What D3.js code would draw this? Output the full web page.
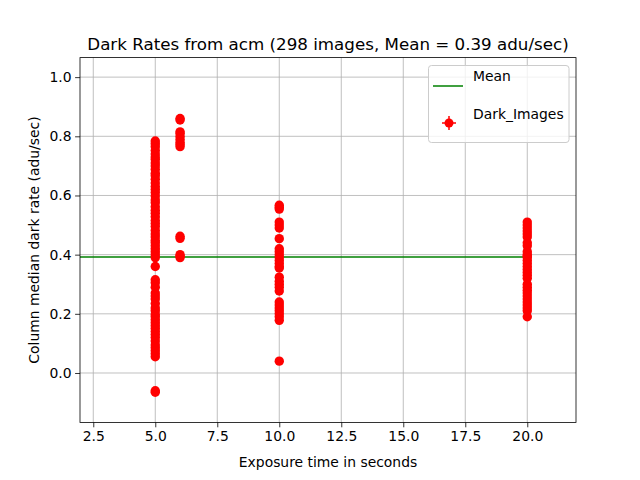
<!DOCTYPE html>
<html><head><meta charset="utf-8">
<script src="https://cdn.jsdelivr.net/npm/d3@7"></script>
<style>body{margin:0;background:#fff;} text{font-family:"DejaVu Sans",sans-serif;}</style>
</head><body>
<svg id="c" width="640" height="480"></svg>
<script>
const exposures = [5, 6, 10, 20];
const rates5 = [0.784,0.775,0.765,0.752,0.74,0.73,0.722,0.71,0.70,0.688,0.675,0.667,0.655,0.642,0.63,0.62,0.61,0.598,0.585,0.575,0.562,0.55,0.54,0.528,0.515,0.505,0.495,0.482,0.47,0.46,0.448,0.44,0.43,0.42,0.41,0.40,0.39,0.36,0.315,0.305,0.29,0.27,0.26,0.25,0.235,0.22,0.21,0.198,0.19,0.18,0.17,0.16,0.15,0.14,0.13,0.12,0.108,0.095,0.085,0.075,0.065,0.055,-0.065,-0.06];
const rates6 = [0.86,0.855,0.815,0.81,0.80,0.79,0.78,0.772,0.765,0.462,0.455,0.40,0.395,0.39];
const rates10 = [0.567,0.56,0.554,0.51,0.50,0.49,0.454,0.42,0.41,0.40,0.39,0.38,0.37,0.36,0.355,0.324,0.31,0.30,0.29,0.277,0.24,0.23,0.22,0.21,0.20,0.19,0.178,0.04];
const rates20 = [0.51,0.50,0.49,0.48,0.47,0.46,0.44,0.43,0.41,0.40,0.395,0.39,0.38,0.37,0.36,0.35,0.34,0.33,0.32,0.30,0.29,0.28,0.27,0.26,0.25,0.24,0.23,0.22,0.21,0.19];
const meanRate = 0.392;
const xTicks = [2.5,5.0,7.5,10.0,12.5,15.0,17.5,20.0];
const yTicks = [0.0,0.2,0.4,0.6,0.8,1.0];
const titleText = "Dark Rates from acm (298 images, Mean = 0.39 adu/sec)";

const svg = d3.select("#c");
const L=80,R=576,T=57.6,B=422.4;
const x = d3.scaleLinear().domain([1.965,21.965]).range([L,R]);
const y = d3.scaleLinear().domain([-0.167,1.066]).range([B,T]);

// grid
const g = svg.append("g");
g.selectAll(".gx").data(xTicks).enter().append("line")
 .attr("x1",d=>x(d)).attr("x2",d=>x(d)).attr("y1",T).attr("y2",B)
 .attr("stroke","#b0b0b0").attr("stroke-width",0.8);
g.selectAll(".gy").data(yTicks).enter().append("line")
 .attr("y1",d=>y(d)).attr("y2",d=>y(d)).attr("x1",L).attr("x2",R)
 .attr("stroke","#b0b0b0").attr("stroke-width",0.8);

// mean line
svg.append("line").attr("x1",L).attr("x2",x(20)).attr("y1",y(meanRate)).attr("y2",y(meanRate))
 .attr("stroke","#008000").attr("stroke-width",1.5);

// points
const sets = [rates5, rates6, rates10, rates20];
const pts = [];
sets.forEach((arr,i)=>arr.forEach(v=>pts.push({x:exposures[i],y:v})));
svg.append("g").selectAll("circle").data(pts).enter().append("circle")
 .attr("cx",d=>x(d.x)).attr("cy",d=>y(d.y)).attr("r",4.7).attr("fill","#ff0000");

// axes
const xa = svg.append("g").attr("transform",`translate(0,${B})`)
 .call(d3.axisBottom(x).tickValues(xTicks).tickFormat(d3.format(".1f")).tickSizeOuter(0).tickSize(4.9).tickPadding(3.5));
const ya = svg.append("g").attr("transform",`translate(${L},0)`)
 .call(d3.axisLeft(y).tickValues(yTicks).tickFormat(d3.format(".1f")).tickSizeOuter(0).tickSize(4.9).tickPadding(3.5));
[xa,ya].forEach(a=>{a.select(".domain").remove();a.selectAll("text").attr("font-size","13.9px").attr("fill","#000").style("font-family","DejaVu Sans");a.selectAll("line").attr("stroke","#000").attr("stroke-width",0.8);});
svg.append("rect").attr("x",L).attr("y",T).attr("width",R-L).attr("height",B-T)
 .attr("fill","none").attr("stroke","#000").attr("stroke-width",0.8);

// labels
svg.append("text").attr("x",(L+R)/2).attr("y",50).attr("text-anchor","middle").attr("font-size","16.7px").text(titleText);
svg.append("text").attr("x",(L+R)/2).attr("y",467).attr("text-anchor","middle").attr("font-size","13.9px").text("Exposure time in seconds");
svg.append("text").attr("transform",`translate(39,${(T+B)/2}) rotate(-90)`).attr("text-anchor","middle").attr("font-size","13.9px").text("Column median dark rate (adu/sec)");

// legend
const lg = svg.append("g");
lg.append("rect").attr("x",428.5).attr("y",65.5).attr("width",140.5).attr("height",77).attr("rx",3)
 .attr("fill","#fff").attr("fill-opacity",0.8).attr("stroke","#cccccc").attr("stroke-width",1);
lg.append("line").attr("x1",433).attr("x2",463).attr("y1",86).attr("y2",86).attr("stroke","#008000").attr("stroke-width",1.5);
lg.append("text").attr("x",473).attr("y",81).attr("font-size","13.9px").text("Mean");
lg.append("text").attr("x",473).attr("y",119).attr("font-size","13.9px").text("Dark_Images");
lg.append("line").attr("x1",442).attr("x2",456).attr("y1",123).attr("y2",123).attr("stroke","#ff0000").attr("stroke-width",1.5);
lg.append("line").attr("x1",449).attr("x2",449).attr("y1",116).attr("y2",130).attr("stroke","#ff0000").attr("stroke-width",1.5);
lg.append("circle").attr("cx",449).attr("cy",123).attr("r",4.5).attr("fill","#ff0000");
</script>
</body></html>
